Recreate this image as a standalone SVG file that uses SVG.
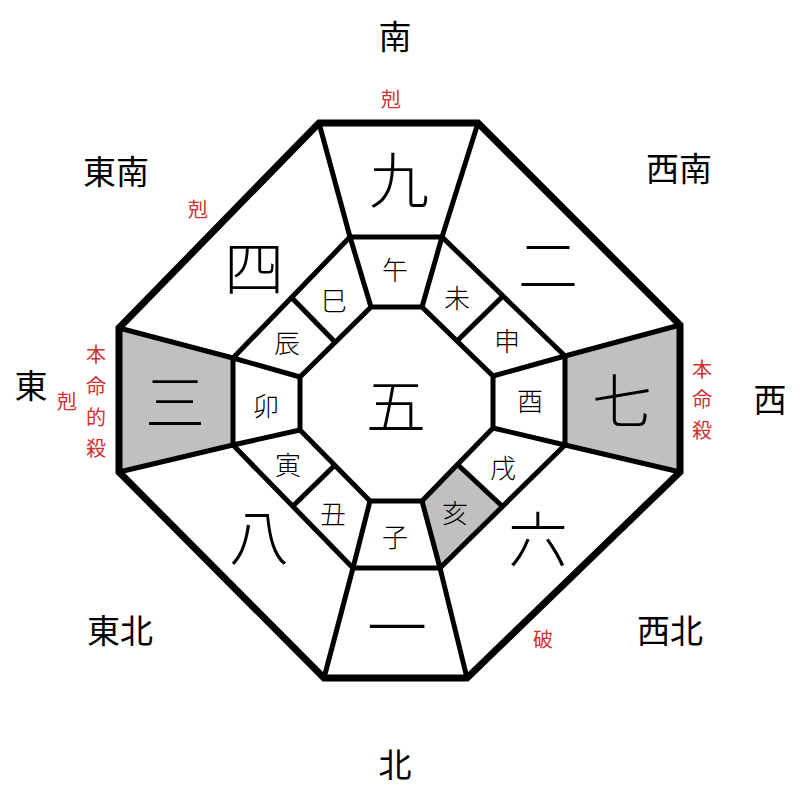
<svg xmlns="http://www.w3.org/2000/svg" width="800" height="800" viewBox="0 0 800 800">
<style>
.bg{fill:#fff}
.outer{fill:none;stroke:#000;stroke-width:7;stroke-linejoin:miter}
.ln{fill:none;stroke:#000;stroke-width:5;stroke-linejoin:miter}
.gray{fill:#c0c0c0}
text{font-family:"Noto Sans CJK JP","Noto Sans CJK SC",sans-serif;text-anchor:middle;dominant-baseline:central;fill:#000}
.big{font-size:60px;font-weight:300}
.br{font-size:26px;font-weight:300}
.dir{font-size:33px}
.red{font-size:20px;fill:#d03030}
</style>
<rect class="bg" x="0" y="0" width="800" height="800"/>
<g id="fills">
<polygon class="gray" points="119,328 233,358 233,445 119,472"/>
<polygon class="gray" points="565,356 680,325 680,472 565,445"/>
<polygon class="gray" points="422,501 457,464 502,506 440,568"/>
</g>
<g id="connectors">
<polygon class="outer" points="319,123 478,123 680,325 680,472 467,678 324,678 119,472 119,328"/>
<polygon class="ln" points="350,237 442,237 565,356 565,445 440,568 353,568 233,445 233,358"/>
<polygon class="ln" points="371,307 422,307 493,376 493,428 422,501 370,501 300,430 300,377"/>
<path class="ln" d="M319,123L350,237M478,123L442,237M680,325L565,356M680,472L565,445M467,678L440,568M324,678L353,568M119,472L233,445M119,328L233,358"/>
<path class="ln" d="M350,237L371,307M442,237L422,307M565,356L493,376M565,445L493,428M440,568L422,501M353,568L370,501M233,445L300,430M233,358L300,377"/>
<path class="ln" d="M503,296L457,341M291,297L335,342M502,506L457,464M293,506L335,465"/>
</g>
<g id="stars">
<text class="big" x="399" y="176">九</text>
<text class="big" x="548" y="261">二</text>
<text class="big" x="622" y="397">七</text>
<text class="big" x="538" y="535">六</text>
<text class="big" x="397" y="623">一</text>
<text class="big" x="259" y="533">八</text>
<text class="big" x="175" y="398">三</text>
<text class="big" x="254" y="264">四</text>
<text class="big" x="396" y="402">五</text>
</g>
<g id="branches">
<text class="br" x="395" y="268">午</text>
<text class="br" x="457" y="296">未</text>
<text class="br" x="507" y="339">申</text>
<text class="br" x="530" y="399">酉</text>
<text class="br" x="503" y="466">戌</text>
<text class="br" x="455" y="511">亥</text>
<text class="br" x="395" y="535">子</text>
<text class="br" x="333" y="512">丑</text>
<text class="br" x="288" y="463">寅</text>
<text class="br" x="266" y="404">卯</text>
<text class="br" x="287" y="341">辰</text>
<text class="br" x="334" y="299">巳</text>
</g>
<g id="directions">
<text class="dir" x="395" y="35">南</text>
<text class="dir" x="395" y="763">北</text>
<text class="dir" x="31" y="384">東</text>
<text class="dir" x="770" y="398">西</text>
<text class="dir" x="116" y="170">東南</text>
<text class="dir" x="679" y="167">西南</text>
<text class="dir" x="120" y="629">東北</text>
<text class="dir" x="670" y="629">西北</text>
</g>
<g id="notes">
<text class="red" x="391" y="98">剋</text>
<text class="red" x="198" y="208">剋</text>
<text class="red" x="67" y="400">剋</text>
<text class="red" x="543" y="638">破</text>
<text class="red" x="96" y="353">本</text>
<text class="red" x="96" y="385">命</text>
<text class="red" x="96" y="416">的</text>
<text class="red" x="96" y="447">殺</text>
<text class="red" x="702" y="368">本</text>
<text class="red" x="702" y="398">命</text>
<text class="red" x="702" y="429">殺</text>
</g>
</svg>
